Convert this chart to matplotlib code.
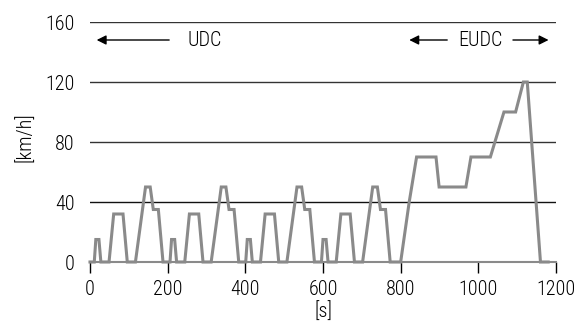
import matplotlib
matplotlib.use("Agg")
import matplotlib.pyplot as plt

plt.rcParams['font.family'] = ['Roboto Condensed', 'DejaVu Sans']
plt.rcParams['font.weight'] = 'light'

# ECE-15 elementary urban cycle (time s, speed km/h)
udc_t = [0, 11, 15, 23, 28, 49, 61, 85, 96, 117, 143, 155, 163, 176, 188, 195]
udc_v = [0, 0, 15, 15, 0, 0, 32, 32, 0, 0, 50, 50, 35, 35, 0, 0]
udc_repeats = 4
udc_period = 195

# Extra-urban cycle (time relative to its start, speed km/h)
eudc_t = [0, 20, 42, 61, 111, 119, 188, 201, 251, 286, 316, 336, 346, 380, 400]
eudc_v = [0, 0, 40, 70, 70, 50, 50, 70, 70, 100, 100, 120, 120, 0, 0]

x_ticks = [0, 200, 400, 600, 800, 1000, 1200]
y_ticks = [0, 40, 80, 120, 160]

t_all, v_all = [], []
for k in range(udc_repeats):
    t_all += [t + k * udc_period for t in udc_t]
    v_all += udc_v
eudc_start = udc_repeats * udc_period
t_all += [t + eudc_start for t in eudc_t]
v_all += eudc_v

fig = plt.figure(figsize=(5.78, 3.25), dpi=100)
ax = fig.add_axes([90/578, 1-262/325, 466/578, 240/325])
ax.set_xlim(0, 1200)
ax.set_ylim(0, 160)

for y in y_ticks[1:]:
    ax.axhline(y, color='#333333' if y != 40 else '#111111', lw=1.0, zorder=1)

ax.plot(t_all, v_all, color='#8a8a8a', lw=2.2, clip_on=False, zorder=3,
        solid_joinstyle='miter')

for s in ['top', 'right', 'left']:
    ax.spines[s].set_visible(False)
ax.spines['bottom'].set_color('#8a8a8a')
ax.spines['bottom'].set_linewidth(1.5)

ax.set_xticks(x_ticks)
ax.set_yticks(y_ticks)
ax.tick_params(axis='x', direction='out', length=8, width=1, color='black',
               labelsize=14.5, pad=5)
ax.tick_params(axis='y', length=0, labelsize=14.5, pad=11)

fig.text(323/578, 1-312/325, '[s]', ha='center', va='center', fontsize=14.5)
fig.text(25/578, 1-137/325, '[km/h]', ha='center', va='center', fontsize=14.5,
         rotation=90)

arrow_kw = dict(arrowstyle='-|>', color='black', lw=1.0, mutation_scale=14)
ax.annotate('', xy=(10, 148), xytext=(211, 148), arrowprops=arrow_kw,
            annotation_clip=False)
ax.text(252, 148, 'UDC', ha='left', va='center', fontsize=14.5)
ax.annotate('', xy=(815, 148), xytext=(927, 148), arrowprops=arrow_kw,
            annotation_clip=False)
ax.text(1006, 148, 'EUDC', ha='center', va='center', fontsize=14.5)
ax.annotate('', xy=(1188, 148), xytext=(1082, 148), arrowprops=arrow_kw,
            annotation_clip=False)

fig.savefig('out.png', dpi=100)
